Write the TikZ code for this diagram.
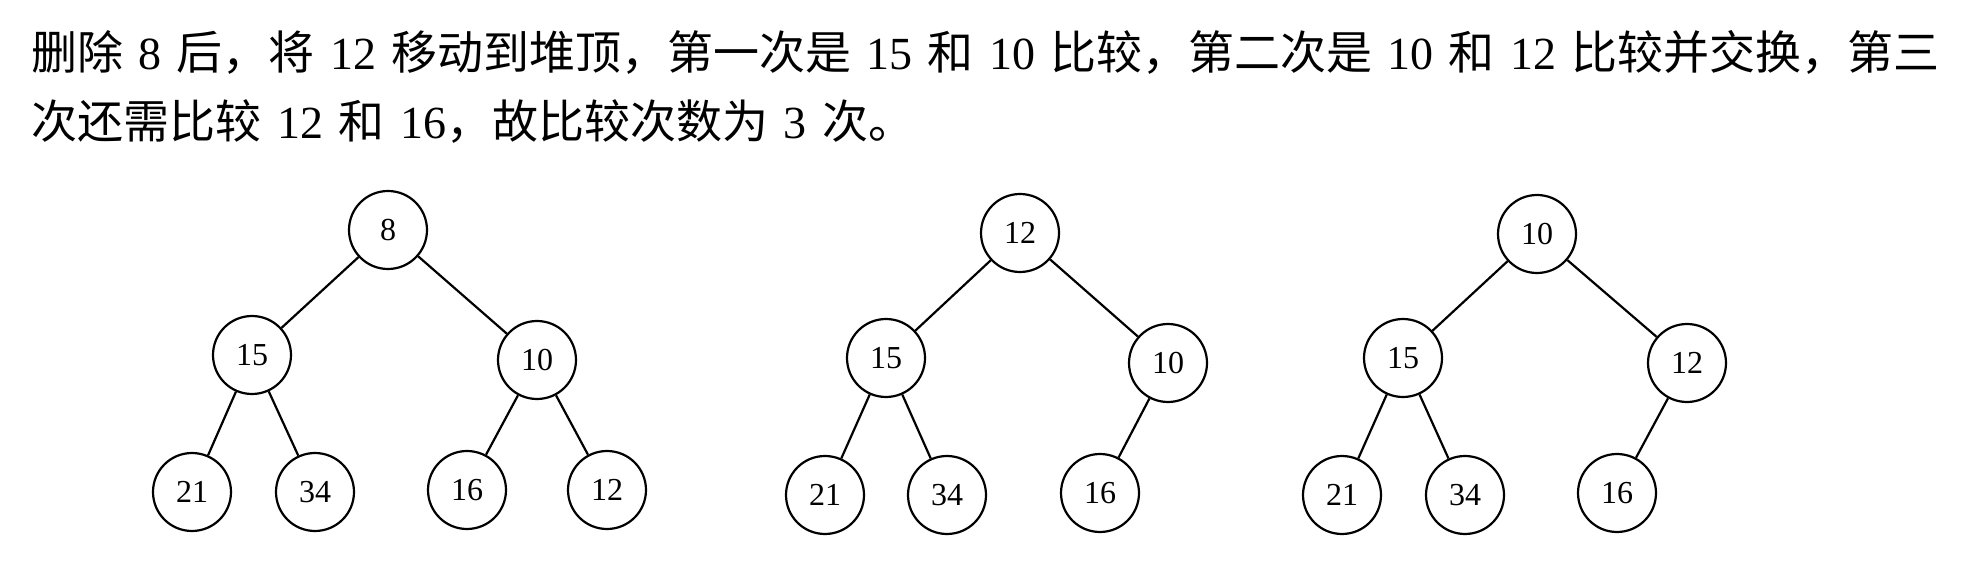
\documentclass[tikz,border=0pt]{standalone}
\usepackage{fontspec}
\setmainfont{Liberation Serif}
\newfontfamily\cjk{Noto Sans CJK SC}
\newcommand{\gapx}{\hspace{0.3em plus 1em}}
\newcommand{\gapy}{\hspace{0.34em}}
\begin{document}
\begin{tikzpicture}[x=0.5pt,y=-0.5pt,
  hn/.style={circle,draw,line width=1.1pt,minimum size=39pt,inner sep=0pt,font=\fontsize{16}{16}\selectfont},
  txt/.style={anchor=base west,inner sep=0pt,font=\fontsize{23}{23}\selectfont},
  edge/.style={line width=1.1pt}]
\useasboundingbox (0,0) rectangle (1975,566);
% text
\node[txt] (l1) at (31,70) {\makebox[954pt][s]{{\cjk 删除}\gapx 8\gapx{\cjk 后，将}\gapx 12\gapx{\cjk 移动到堆顶，第一次是}\gapx 15\gapx{\cjk 和}\gapx 10\gapx{\cjk 比较，第二次是}\gapx 10\gapx{\cjk 和}\gapx 12\gapx{\cjk 比较并交换，第三}}};
\node[txt] (l2) at (31,139) {{\cjk 次还需比较}\gapy 12\gapy{\cjk 和}\gapy 16{\cjk ，故比较次数为}\gapy 3\gapy{\cjk 次。}};
% tree 1
\node[hn] (ar) at (388,230) {8};
\node[hn] (aa) at (252,355) {15};
\node[hn] (ab) at (537,360) {10};
\node[hn] (ac) at (192,492) {21};
\node[hn] (ad) at (315,492) {34};
\node[hn] (ae) at (467,490) {16};
\node[hn] (af) at (607,490) {12};
\draw[edge] (ar) -- (aa);
\draw[edge] (ar) -- (ab);
\draw[edge] (aa) -- (ac);
\draw[edge] (aa) -- (ad);
\draw[edge] (ab) -- (ae);
\draw[edge] (ab) -- (af);
% tree 2
\node[hn] (br) at (1020,233) {12};
\node[hn] (ba) at (886,358) {15};
\node[hn] (bb) at (1168,363) {10};
\node[hn] (bc) at (825,495) {21};
\node[hn] (bd) at (947,495) {34};
\node[hn] (be) at (1100,493) {16};
\draw[edge] (br) -- (ba);
\draw[edge] (br) -- (bb);
\draw[edge] (ba) -- (bc);
\draw[edge] (ba) -- (bd);
\draw[edge] (bb) -- (be);
% tree 3
\node[hn] (cr) at (1537,234) {10};
\node[hn] (ca) at (1403,358) {15};
\node[hn] (cb) at (1687,363) {12};
\node[hn] (cc) at (1342,495) {21};
\node[hn] (cd) at (1465,495) {34};
\node[hn] (ce) at (1617,493) {16};
\draw[edge] (cr) -- (ca);
\draw[edge] (cr) -- (cb);
\draw[edge] (ca) -- (cc);
\draw[edge] (ca) -- (cd);
\draw[edge] (cb) -- (ce);
\end{tikzpicture}
\end{document}
